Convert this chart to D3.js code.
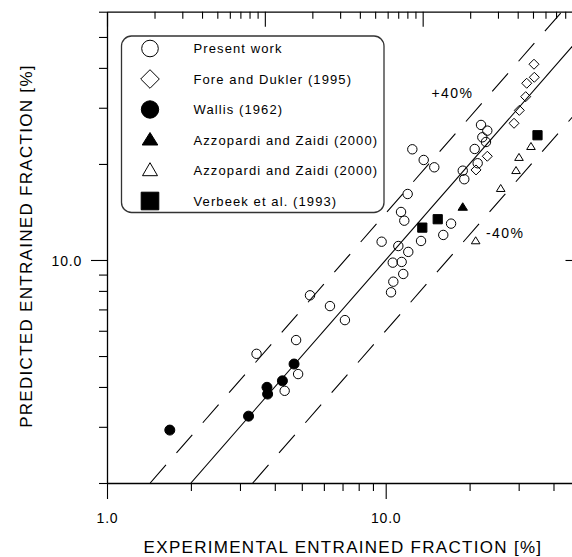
<!DOCTYPE html>
<html>
<head>
<meta charset="utf-8">
<script src="https://cdn.jsdelivr.net/npm/d3@7"></script>
<style>
    body { margin: 0; background: #fff; }
    text { font-family: "Liberation Sans", Arial, sans-serif; fill: #000; }
</style>
</head>
<body>
<div id="chart"></div>
<script>
/**** DATA ****/

// [experimental, predicted] entrained fraction, in %
var presentWork = [
    [3.44, 5.08], [4.77, 5.61], [4.85, 4.39], [4.34, 3.89], [5.35, 7.75],
    [6.31, 7.17], [7.14, 6.48],
    [21.98, 26.5], [23.15, 25.43], [22.22, 24.24], [22.9, 23.43], [20.86, 22.28],
    [21.38, 20.1], [18.9, 19.05], [19.14, 17.91], [12.46, 22.23], [13.69, 20.58],
    [14.94, 19.52], [11.99, 16.1], [11.35, 14.14], [11.66, 13.28], [17.16, 13.0],
    [16.09, 11.98], [13.39, 11.47], [11.1, 11.06], [9.67, 11.41], [12.05, 10.6],
    [10.6, 9.81], [11.41, 9.86], [11.56, 9.04], [10.65, 8.55], [10.45, 7.92]
];
var foreDukler = [
    [34.05, 41.07], [34.14, 37.38], [32.06, 35.8], [31.79, 32.5],
    [30.16, 29.44], [28.87, 26.82], [23.15, 21.14], [21.09, 19.15]
];
var wallis = [
    [1.68, 2.93], [3.22, 3.24], [3.75, 3.99], [3.77, 3.8], [4.26, 4.18], [4.69, 4.72]
];
var azzopardiClosed = [[18.9, 14.63]];
var azzopardiOpen = [
    [21.03, 11.47], [25.86, 16.73], [29.35, 19.04], [30.08, 20.93], [33.21, 22.65]
];
var verbeek = [[13.53, 12.63], [15.37, 13.42], [35.05, 24.6]];

var seriesNames = [
    "Present work", "Fore and Dukler (1995)", "Wallis (1962)",
    "Azzopardi and Zaidi (2000)", "Azzopardi and Zaidi (2000)", "Verbeek et al. (1993)"
];

var xDomain = [1, 50];
var yDomain = [2, 60];
// the unlabelled top axis runs over three decades
var topDomain = [1, 1000];
var xTickLabels = {1: "1.0", 10: "10.0"};
var yTickLabels = {10: "10.0"};

// predicted = factor * experimental
var bandFactors = [1, 1.4, 0.6];
var bandLabels = ["", "+40%", "-40%"];

/**** SETUP ****/

var WIDTH = 572, HEIGHT = 557;
var LEFT = 107, RIGHT = 580.5, TOP = 11.7, BOTTOM = 483;

var svg = d3.select("#chart").append("svg")
    .attr("width", WIDTH)
    .attr("height", HEIGHT);

var x = d3.scaleLog().domain(xDomain).range([LEFT, RIGHT]);
var y = d3.scaleLog().domain(yDomain).range([BOTTOM, TOP]);
var xTop = d3.scaleLog().domain(topDomain).range([LEFT, RIGHT]);

// marker shapes: name, fill, data size, legend size
var series = [
    {data: presentWork, shape: "circle", filled: false, size: [4.7, 4.7], legendSize: [8.3, 8.3]},
    {data: foreDukler, shape: "diamond", filled: false, size: [5, 5], legendSize: [9.3, 9.3]},
    {data: wallis, shape: "circle", filled: true, size: [5, 5], legendSize: [8.7, 8.7]},
    {data: azzopardiClosed, shape: "triangle", filled: true, size: [4.7, 7.5], legendSize: [7.8, 12.5]},
    {data: azzopardiOpen, shape: "triangle", filled: false, size: [4.3, 7], legendSize: [7.5, 13]},
    {data: verbeek, shape: "square", filled: true, size: [4.6, 4.6], legendSize: [8.8, 8.8]}
];
series.forEach(function(s, i) { s.name = seriesNames[i]; });

/**** HELPERS ****/

function logTicks(domain) {
    var out = [];
    var lo = Math.floor(Math.log10(domain[0]));
    var hi = Math.ceil(Math.log10(domain[1]));
    for (var p = lo; p <= hi; p++) {
        for (var m = 1; m < 10; m++) {
            var v = m * Math.pow(10, p);
            if (v >= domain[0] * 0.9999 && v <= domain[1] * 1.0001) out.push(v);
        }
    }
    return out;
}

function isMajor(v) {
    var l = Math.log10(v);
    return Math.abs(l - Math.round(l)) < 1e-9;
}

/**
 * @param {string} shape -- circle, diamond, triangle or square
 * @param {Array<number>} size -- [half width, height or half height]
 * @return {string} path centred on 0,0
 */
function markerPath(shape, size) {
    var w = size[0], h = size[1];
    if (shape === "circle") {
        return d3.symbol(d3.symbolCircle, Math.PI * w * w)();
    }
    if (shape === "diamond") {
        return "M0," + (-h) + "L" + w + ",0L0," + h + "L" + (-w) + ",0Z";
    }
    if (shape === "triangle") {
        return "M0," + (-h * 0.6) + "L" + w + "," + (h * 0.4) + "L" + (-w) + "," + (h * 0.4) + "Z";
    }
    return "M" + (-w) + "," + (-h) + "H" + w + "V" + h + "H" + (-w) + "Z";
}

function styleAxis(g, attr, majorLen, minorLen) {
    g.attr("font-family", null).attr("font-size", null);
    g.select(".domain").attr("stroke", "#000").attr("stroke-width", 1.3);
    g.selectAll(".tick line")
        .attr("stroke", "#000")
        .attr("stroke-width", 1.1)
        .attr(attr, function(d) { return isMajor(d) ? majorLen : minorLen; });
    g.selectAll(".tick text")
        .style("font-size", "14px")
        .style("letter-spacing", "0.8px");
}

/**** AXES ****/

var xTicks = logTicks(xDomain);
var yTicks = logTicks(yDomain);

svg.append("g")
    .attr("transform", "translate(0," + BOTTOM + ")")
    .call(d3.axisBottom(x).tickValues(xTicks).tickSizeOuter(0)
        .tickFormat(function(d) { return xTickLabels[d] || ""; }))
    .call(styleAxis, "y2", 16, 8)
    .selectAll(".tick text").attr("y", 40).attr("dy", 0);

svg.append("g")
    .attr("transform", "translate(" + LEFT + ",0)")
    .call(d3.axisLeft(y).tickValues(yTicks).tickSizeOuter(0)
        .tickFormat(function(d) { return yTickLabels[d] || ""; }))
    .call(styleAxis, "x2", -16, -8)
    .selectAll(".tick text").attr("x", -25).attr("dy", "0.36em");

svg.append("g")
    .attr("transform", "translate(0," + TOP + ")")
    .call(d3.axisTop(xTop).tickValues(logTicks(topDomain)).tickSizeOuter(0).tickFormat(""))
    .call(styleAxis, "y2", 15, 7);

svg.append("g")
    .attr("transform", "translate(" + RIGHT + ",0)")
    .call(d3.axisRight(y).tickValues(yTicks).tickSizeOuter(0).tickFormat(""))
    .call(styleAxis, "x2", -15, -7);

svg.append("text")
    .attr("x", 343)
    .attr("y", 553)
    .attr("text-anchor", "middle")
    .style("font-size", "17px")
    .style("letter-spacing", "1.3px")
    .text("EXPERIMENTAL ENTRAINED FRACTION [%]");

svg.append("text")
    .attr("transform", "translate(31.5,246) rotate(-90)")
    .attr("text-anchor", "middle")
    .style("font-size", "17px")
    .style("letter-spacing", "1.3px")
    .text("PREDICTED ENTRAINED FRACTION [%]");

/**** REFERENCE LINES ****/

svg.append("clipPath").attr("id", "plot-clip")
    .append("rect")
    .attr("x", LEFT).attr("y", TOP)
    .attr("width", RIGHT - LEFT).attr("height", BOTTOM - TOP);

var line = d3.line()
    .x(function(d) { return x(d[0]); })
    .y(function(d) { return y(d[1]); });

svg.append("g")
    .attr("clip-path", "url(#plot-clip)")
    .selectAll("path")
    .data(bandFactors)
    .enter()
    .append("path")
    .attr("d", function(k) {
        // from the bottom axis up to where the line leaves the frame
        var x0 = yDomain[0] / k;
        var x1 = Math.min(xDomain[1], yDomain[1] / k);
        return line([[x0, x0 * k], [x1, x1 * k]]);
    })
    .attr("fill", "none")
    .attr("stroke", "#000")
    .attr("stroke-width", 1.1)
    .attr("stroke-dasharray", function(k) { return k === 1 ? null : "24,16"; });

svg.append("text")
    .attr("x", 431.5).attr("y", 98)
    .style("font-size", "14px").style("letter-spacing", "1.4px")
    .text(bandLabels[1]);

svg.append("text")
    .attr("x", 486).attr("y", 238)
    .style("font-size", "14px").style("letter-spacing", "1.4px")
    .text(bandLabels[2]);

/**** POINTS ****/

var pointGroups = svg.append("g").attr("class", "points")
    .selectAll("g")
    .data(series)
    .enter()
    .append("g");

pointGroups.selectAll("path")
    .data(function(s) {
        return s.data.map(function(d) { return {s: s, d: d}; });
    })
    .enter()
    .append("path")
    .attr("transform", function(p) {
        return "translate(" + x(p.d[0]) + "," + y(p.d[1]) + ")";
    })
    .attr("d", function(p) { return markerPath(p.s.shape, p.s.size); })
    .attr("fill", function(p) { return p.s.filled ? "#000" : "none"; })
    .attr("stroke", "#000")
    .attr("stroke-width", 1);

/**** LEGEND ****/

var legend = svg.append("g").attr("class", "legend");

legend.append("rect")
    .attr("x", 121.5).attr("y", 36)
    .attr("width", 262.5).attr("height", 176.5)
    .attr("rx", 10).attr("ry", 10)
    .attr("fill", "none")
    .attr("stroke", "#333")
    .attr("stroke-width", 1.3);

var rows = legend.selectAll("g.row")
    .data(series)
    .enter()
    .append("g")
    .attr("class", "row")
    .attr("transform", function(s, i) { return "translate(150," + (48.5 + i * 30.5) + ")"; });

rows.append("path")
    .attr("d", function(s) { return markerPath(s.shape, s.legendSize); })
    .attr("fill", function(s) { return s.filled ? "#000" : "none"; })
    .attr("stroke", "#000")
    .attr("stroke-width", 1);

rows.append("text")
    .attr("x", 43.5)
    .attr("y", 4.6)
    .style("font-size", "13px")
    .style("letter-spacing", "1.1px")
    .text(function(s) { return s.name; });
</script>
</body>
</html>
